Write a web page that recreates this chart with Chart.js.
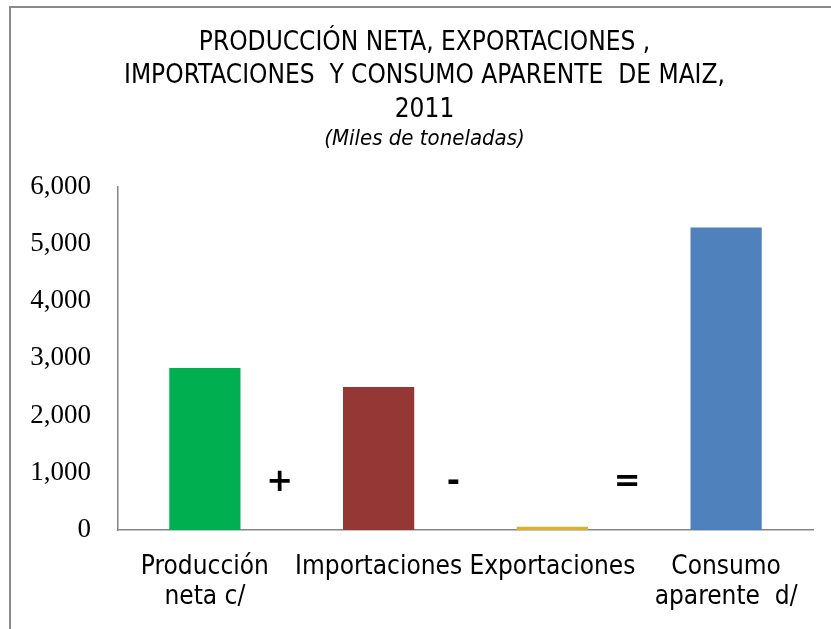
<!DOCTYPE html>
<html>
<head>
<meta charset="utf-8">
<script src="https://cdn.jsdelivr.net/npm/chart.js@4/dist/chart.umd.min.js"></script>
<style>
  html, body { margin: 0; padding: 0; background: #fff; }
  #c { display: block; }
</style>
</head>
<body>
<canvas id="c" width="831" height="629"></canvas>
<script>
// ---- data ----
const categories = [["Producción", "neta c/"], ["Importaciones"], ["Exportaciones"], ["Consumo", "aparente  d/"]];
const values = [2830, 2500, 55, 5285];
const barColors = ["#00B050", "#953735", "#D9B030", "#4F81BD"];
const operators = ["+", "-", "="];
const yTicks = [0, 1000, 2000, 3000, 4000, 5000, 6000];
const titleLines = ["PRODUCCIÓN NETA, EXPORTACIONES ,", "IMPORTACIONES  Y CONSUMO APARENTE  DE MAIZ,", "2011"];
const subtitleText = "(Miles de toneladas)";

const narrow = "'Liberation Sans Narrow', 'DejaVu Sans Condensed', 'Liberation Sans', sans-serif";

const framePlugin = {
  id: 'frame',
  beforeDraw(chart) {
    const ctx = chart.ctx;
    ctx.save();
    ctx.fillStyle = '#fff';
    ctx.fillRect(0, 0, chart.width, chart.height);
    ctx.strokeStyle = '#8a8a8a';
    ctx.lineWidth = 2;
    ctx.beginPath();
    ctx.moveTo(10, chart.height);
    ctx.lineTo(10, 7);
    ctx.lineTo(chart.width, 7);
    ctx.stroke();
    ctx.restore();
  }
};

const operatorPlugin = {
  id: 'operators',
  afterDatasetsDraw(chart) {
    const ctx = chart.ctx;
    const xs = chart.scales.x;
    const area = chart.chartArea;
    ctx.save();
    ctx.fillStyle = '#000';
    ctx.font = "bold 32px 'DejaVu Sans', sans-serif";
    ctx.textAlign = 'center';
    ctx.textBaseline = 'middle';
    operators.forEach((op, i) => {
      const a = xs.getPixelForValue(i);
      const b = xs.getPixelForValue(i + 1);
      const x = a + 0.43 * (b - a);
      ctx.fillText(op, x, area.bottom - 47);
    });
    ctx.restore();
  }
};

new Chart(document.getElementById('c'), {
  type: 'bar',
  data: {
    labels: categories,
    datasets: [{
      data: values,
      backgroundColor: barColors,
      borderWidth: 0,
      barPercentage: 0.41,
      categoryPercentage: 1.0
    }]
  },
  options: {
    responsive: false,
    animation: false,
    devicePixelRatio: 1,
    layout: { padding: { left: 18, right: 0, top: 0, bottom: 0 } },
    plugins: {
      legend: { display: false },
      tooltip: { enabled: false },
      title: {
        display: true,
        text: titleLines,
        color: '#000',
        font: { family: narrow, size: 26, weight: 'normal', lineHeight: 1.3 },
        padding: { top: 26, bottom: 0 }
      },
      subtitle: {
        display: true,
        text: subtitleText,
        color: '#000',
        font: { family: narrow, size: 22, style: 'italic', weight: 'normal', lineHeight: 1.1 },
        padding: { top: 0, bottom: 35 }
      }
    },
    scales: {
      x: {
        afterFit(scale) { scale.height = 99; },
        grid: { display: false, drawTicks: false },
        border: { display: true, color: '#868686', width: 1.5 },
        ticks: {
          color: '#000',
          font: { family: narrow, size: 26, lineHeight: 1.15 },
          padding: 22,
          maxRotation: 0,
          autoSkip: false
        }
      },
      y: {
        min: 0,
        max: 6000,
        afterFit(scale) { scale.width = 100; },
        afterBuildTicks(scale) { scale.ticks = yTicks.map(v => ({ value: v })); },
        grid: { display: false, drawTicks: false },
        border: { display: true, color: '#868686', width: 1.5 },
        ticks: {
          color: '#000',
          font: { family: "'Liberation Serif', 'DejaVu Serif', serif", size: 27 },
          padding: 27,
          callback: v => v.toLocaleString('en-US')
        }
      },
      yRight: {
        type: 'linear',
        position: 'right',
        min: 0,
        max: 6000,
        afterFit(scale) { scale.width = 18; },
        grid: { display: false, drawTicks: false },
        border: { display: false },
        ticks: { display: false }
      }
    }
  },
  plugins: [framePlugin, operatorPlugin]
});
</script>
</body>
</html>
